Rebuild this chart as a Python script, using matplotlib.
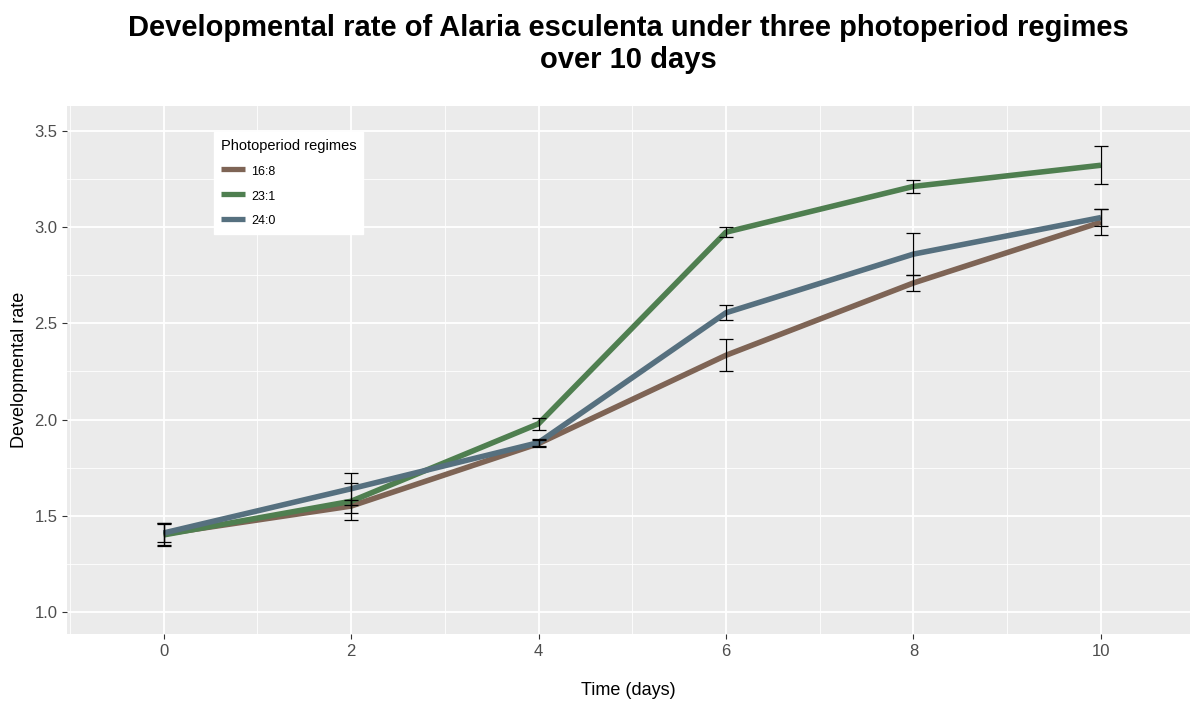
import matplotlib.pyplot as plt
from matplotlib.ticker import MultipleLocator
import numpy as np

plt.rcParams['font.family'] = ['Liberation Sans', 'DejaVu Sans']

days = [0, 2, 4, 6, 8, 10]
regimes = ["16:8", "23:1", "24:0"]

rate_16_8 = [1.405, 1.55, 1.875, 2.334, 2.71, 3.026]
err_16_8 = [0.055, 0.034, 0.02, 0.083, 0.04, 0.068]
rate_23_1 = [1.40, 1.575, 1.978, 2.974, 3.212, 3.322]
err_23_1 = [0.06, 0.097, 0.032, 0.026, 0.033, 0.098]
rate_24_0 = [1.41, 1.64, 1.88, 2.555, 2.86, 3.05]
err_24_0 = [0.047, 0.083, 0.018, 0.039, 0.11, 0.045]

colours = ["#7e6455", "#4f7f50", "#56707f"]

fig = plt.figure(figsize=(11.94, 7.01), dpi=100)
ax = fig.add_axes([67/1194, 67/701, (1190-67)/1194, (634-106)/701])
ax.set_facecolor("#ebebeb")
for s in ax.spines.values():
    s.set_visible(False)

ax.xaxis.set_major_locator(MultipleLocator(2))
ax.xaxis.set_minor_locator(MultipleLocator(1))
ax.yaxis.set_major_locator(MultipleLocator(0.5))
ax.yaxis.set_minor_locator(MultipleLocator(0.25))
ax.grid(which="major", color="white", linewidth=1.3)
ax.grid(which="minor", color="white", linewidth=0.6)
ax.set_axisbelow(True)

series = [(rate_16_8, err_16_8), (rate_23_1, err_23_1), (rate_24_0, err_24_0)]
for (y, e), c, lab in zip(series, colours, regimes):
    ax.plot(days, y, color=c, linewidth=4.0, label=lab, zorder=3,
            solid_capstyle="butt")
for y, e in series:
    ax.errorbar(days, y, yerr=e, fmt="none", ecolor="black", elinewidth=0.9,
                capsize=5, capthick=0.9, zorder=4)

ax.set_xlim(-1.03, 10.95)
ax.set_ylim(0.885, 3.63)
ax.set_yticks([1.0, 1.5, 2.0, 2.5, 3.0, 3.5])
ax.set_yticklabels(["1.0", "1.5", "2.0", "2.5", "3.0", "3.5"])
ax.tick_params(which="major", length=3.5, width=0.8, color="#333333",
               labelcolor="#4d4d4d", labelsize=12)
ax.tick_params(which="minor", length=0)

ax.set_xlabel("Time (days)", fontsize=13)
ax.set_ylabel("Developmental rate", fontsize=13)
ax.xaxis.set_label_coords(0.5, -0.09)
ax.yaxis.set_label_coords(-0.035, 0.5)

leg = ax.legend(title="Photoperiod regimes", loc="upper left",
                bbox_to_anchor=(0.131, 0.95), fontsize=9,
                title_fontsize=10.5, frameon=True, fancybox=False,
                framealpha=1, edgecolor="white", handlelength=1.9,
                handleheight=1.3, labelspacing=0.85, borderpad=0.55,
                handletextpad=0.5, borderaxespad=0)
leg._legend_box.align = "left"
for h in leg.legend_handles:
    h.set_linewidth(3.8)

fig.text(628/1194, 1-44/701,
         "Developmental rate of Alaria esculenta under three photoperiod regimes\nover 10 days",
         ha="center", va="center", fontsize=21, fontweight="bold",
         linespacing=1.2)

fig.savefig("out.png", dpi=100)
